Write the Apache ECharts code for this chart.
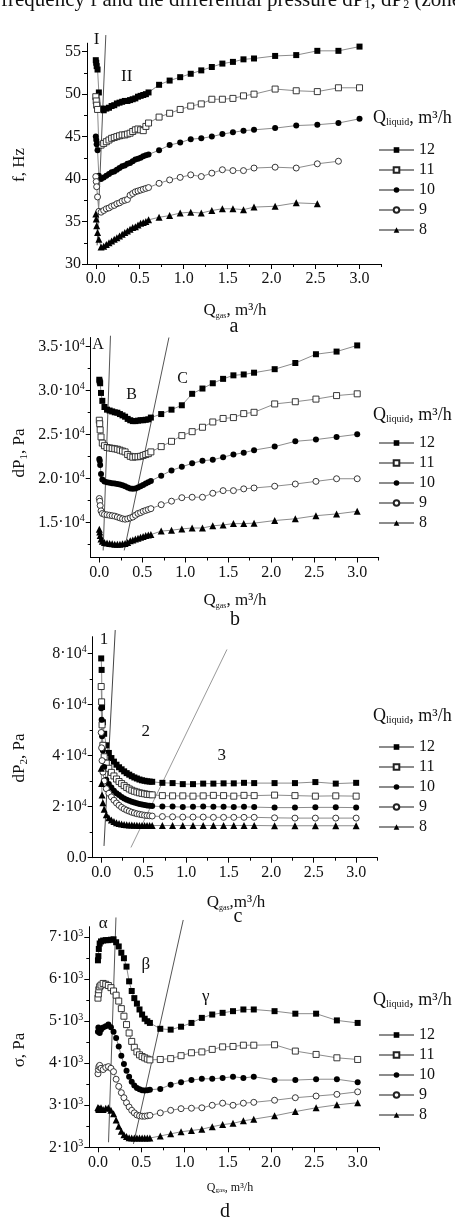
<!DOCTYPE html>
<html><head><meta charset="utf-8">
<script src="https://cdn.jsdelivr.net/npm/echarts@6/dist/echarts.min.js"></script>
<style>html,body{margin:0;padding:0;background:#fff}#c{width:455px;height:1224px}</style>
</head><body><div id="c"></div>
<script>
// ---------- data ----------
const qGas = [0, 0.005, 0.01, 0.02, 0.035, 0.06, 0.09, 0.12, 0.15, 0.18, 0.21, 0.24, 0.27, 0.30, 0.33, 0.36, 0.39, 0.42, 0.45, 0.48, 0.51, 0.54, 0.57, 0.60, 0.72, 0.84, 0.96, 1.08, 1.20, 1.32, 1.44, 1.56, 1.68, 1.80, 2.04, 2.28, 2.52, 2.76, 3.00];
const liquidNames = ['12', '11', '10', '9', '8'];
const xTicks = [0, 0.5, 1.0, 1.5, 2.0, 2.5, 3.0];
const xMinorTicks = [0.25, 0.75, 1.25, 1.75, 2.25, 2.75, 3.25];

// panel a: f, Hz
const f12 = [54.0, 53.7, 53.3, 52.9, 50.2, 48.3, 48.1, 48.3, 48.4, 48.6, 48.7, 48.9, 49.0, 49.1, 49.2, 49.2, 49.3, 49.4, 49.5, 49.7, 49.8, 49.9, 50.0, 50.2, 51.1, 51.6, 52.0, 52.4, 52.8, 53.2, 53.6, 53.8, 54.1, 54.2, 54.5, 54.6, 55.1, 55.1, 55.6];
const f11 = [49.7, 49.2, 48.7, 48.2, 44.0, 44.0, 44.2, 44.4, 44.6, 44.8, 44.9, 45.0, 45.1, 45.2, 45.2, 45.3, 45.4, 45.6, 45.8, 45.9, 45.8, 45.7, 46.2, 46.6, 47.3, 47.75, 48.2, 48.6, 48.85, 49.4, 49.4, 49.5, 49.8, 50.0, 50.6, 50.4, 50.3, 50.75, 50.75];
const f10 = [45.0, 44.6, 44.1, 43.4, 40.4, 40.0, 40.2, 40.4, 40.6, 40.8, 40.9, 41.1, 41.3, 41.5, 41.6, 41.8, 41.9, 42.1, 42.3, 42.4, 42.5, 42.7, 42.8, 42.9, 43.4, 44.0, 44.3, 44.7, 44.8, 45.0, 45.3, 45.5, 45.7, 45.8, 46.0, 46.3, 46.4, 46.6, 47.1];
const f9 = [40.3, 39.7, 39.1, 37.9, 36.2, 36.1, 36.3, 36.5, 36.6, 36.8, 36.9, 37.1, 37.2, 37.4, 37.5, 37.6, 38.1, 38.3, 38.5, 38.6, 38.7, 38.8, 38.9, 39.0, 39.5, 39.9, 40.2, 40.5, 40.3, 40.7, 41.1, 41.0, 41.0, 41.3, 41.4, 41.3, 41.8, 42.1, null];
const f8 = [35.9, 35.3, 34.5, 33.7, 32.9, 32.0, 32.1, 32.3, 32.5, 32.7, 32.9, 33.1, 33.3, 33.5, 33.7, 33.9, 34.1, 34.3, 34.4, 34.6, 34.8, 34.9, 35.0, 35.2, 35.5, 35.7, 36.0, 36.1, 36.0, 36.3, 36.5, 36.5, 36.4, 36.7, 36.8, 37.2, 37.1, null, null];

// panel b: dP1, x10^4 Pa
const dp1_12 = [3.12, 3.10, 3.08, 2.97, 2.88, 2.81, 2.78, 2.77, 2.76, 2.75, 2.745, 2.73, 2.715, 2.70, 2.675, 2.66, 2.65, 2.65, 2.655, 2.66, 2.66, 2.665, 2.67, 2.69, 2.73, 2.78, 2.83, 2.96, 3.02, 3.08, 3.13, 3.17, 3.18, 3.20, 3.24, 3.31, 3.41, 3.44, 3.51];
const dp1_11 = [2.66, 2.62, 2.55, 2.47, 2.40, 2.37, 2.35, 2.345, 2.34, 2.335, 2.33, 2.32, 2.31, 2.30, 2.27, 2.25, 2.24, 2.245, 2.245, 2.25, 2.26, 2.27, 2.28, 2.30, 2.36, 2.42, 2.485, 2.53, 2.58, 2.64, 2.68, 2.69, 2.735, 2.75, 2.845, 2.87, 2.90, 2.94, 2.96];
const dp1_10 = [2.22, 2.20, 2.15, 2.05, 1.985, 1.965, 1.955, 1.95, 1.945, 1.94, 1.935, 1.93, 1.92, 1.91, 1.895, 1.885, 1.88, 1.885, 1.895, 1.91, 1.925, 1.94, 1.955, 1.97, 2.03, 2.09, 2.13, 2.17, 2.20, 2.21, 2.24, 2.27, 2.29, 2.32, 2.36, 2.42, 2.44, 2.47, 2.50];
const dp1_9 = [1.77, 1.74, 1.69, 1.63, 1.60, 1.59, 1.585, 1.58, 1.575, 1.57, 1.56, 1.55, 1.54, 1.535, 1.54, 1.55, 1.56, 1.58, 1.60, 1.61, 1.625, 1.635, 1.645, 1.655, 1.70, 1.74, 1.78, 1.785, 1.785, 1.83, 1.86, 1.86, 1.88, 1.89, 1.91, 1.935, 1.965, 1.995, 1.995];
const dp1_8 = [1.42, 1.39, 1.35, 1.31, 1.285, 1.27, 1.265, 1.26, 1.255, 1.25, 1.25, 1.25, 1.255, 1.26, 1.27, 1.29, 1.30, 1.31, 1.32, 1.33, 1.34, 1.35, 1.355, 1.36, 1.40, 1.41, 1.425, 1.435, 1.435, 1.46, 1.47, 1.485, 1.485, 1.49, 1.52, 1.54, 1.575, 1.595, 1.625];

// panel c: dP2, x10^4 Pa
const dp2_12 = [7.8, 7.35, 5.9, 5.3, 4.85, 4.40, 4.10, 3.90, 3.76, 3.64, 3.54, 3.46, 3.38, 3.31, 3.25, 3.19, 3.14, 3.10, 3.06, 3.03, 3.01, 2.99, 2.98, 2.97, 2.93, 2.92, 2.88, 2.88, 2.90, 2.90, 2.91, 2.91, 2.93, 2.92, 2.92, 2.92, 2.96, 2.90, 2.93];
const dp2_11 = [6.7, 6.1, 5.2, 4.4, 3.95, 3.70, 3.50, 3.34, 3.20, 3.08, 2.98, 2.90, 2.82, 2.75, 2.69, 2.64, 2.60, 2.57, 2.54, 2.52, 2.50, 2.48, 2.47, 2.46, 2.43, 2.42, 2.42, 2.41, 2.42, 2.44, 2.43, 2.41, 2.44, 2.43, 2.45, 2.43, 2.41, 2.42, 2.41];
const dp2_10 = [5.85, 5.4, 4.75, 4.2, 3.55, 3.05, 2.88, 2.75, 2.62, 2.52, 2.45, 2.38, 2.32, 2.27, 2.23, 2.19, 2.16, 2.13, 2.10, 2.08, 2.06, 2.04, 2.03, 2.02, 2.0, 2.0, 1.98, 1.99, 2.0, 1.99, 1.99, 1.98, 1.99, 1.98, 1.96, 1.96, 1.97, 1.97, 1.96];
const dp2_9 = [4.9, 4.3, 3.8, 3.35, 3.0, 2.70, 2.52, 2.38, 2.25, 2.14, 2.05, 1.97, 1.91, 1.86, 1.82, 1.78, 1.75, 1.72, 1.70, 1.68, 1.66, 1.65, 1.64, 1.63, 1.61, 1.60, 1.59, 1.59, 1.59, 1.58, 1.58, 1.58, 1.58, 1.58, 1.56, 1.55, 1.55, 1.55, 1.55];
const dp2_8 = [3.5, 2.9, 2.45, 2.15, 1.90, 1.68, 1.56, 1.48, 1.42, 1.37, 1.34, 1.32, 1.30, 1.29, 1.28, 1.275, 1.27, 1.27, 1.265, 1.26, 1.26, 1.26, 1.26, 1.26, 1.26, 1.26, 1.26, 1.26, 1.26, 1.26, 1.26, 1.26, 1.26, 1.26, 1.25, 1.25, 1.25, 1.25, 1.25];

// panel d: sigma, x10^3 Pa
const sg12 = [6.45, 6.55, 6.72, 6.85, 6.9, 6.92, 6.93, 6.93, 6.94, 6.95, 6.88, 6.78, 6.63, 6.50, 6.30, 5.95, 5.72, 5.55, 5.42, 5.28, 5.16, 5.06, 5.0, 4.96, 4.82, 4.80, 4.87, 4.96, 5.08, 5.16, 5.20, 5.24, 5.28, 5.28, 5.24, 5.18, 5.18, 5.02, 4.96];
const sg11 = [5.55, 5.65, 5.75, 5.82, 5.86, 5.9, 5.88, 5.85, 5.80, 5.72, 5.62, 5.48, 5.30, 5.12, 4.92, 4.72, 4.52, 4.38, 4.27, 4.20, 4.16, 4.13, 4.10, 4.08, 4.09, 4.11, 4.18, 4.25, 4.27, 4.33, 4.39, 4.40, 4.43, 4.43, 4.44, 4.29, 4.21, 4.13, 4.09];
const sg10 = [4.75, 4.85, 4.78, 4.72, 4.80, 4.85, 4.88, 4.92, 4.86, 4.75, 4.60, 4.40, 4.18, 3.98, 3.82, 3.68, 3.56, 3.47, 3.41, 3.38, 3.36, 3.35, 3.36, 3.37, 3.39, 3.49, 3.55, 3.60, 3.63, 3.63, 3.65, 3.68, 3.65, 3.68, 3.60, 3.60, 3.62, 3.62, 3.55];
const sg9 = [3.75, 3.85, 3.92, 3.95, 3.88, 3.85, 3.90, 3.92, 3.88, 3.80, 3.62, 3.45, 3.30, 3.18, 3.06, 2.96, 2.88, 2.82, 2.77, 2.75, 2.74, 2.74, 2.75, 2.76, 2.82, 2.88, 2.92, 2.93, 2.94, 3.0, 3.05, 3.0, 3.05, 3.07, 3.12, 3.18, 3.22, 3.26, 3.32];
const sg8 = [2.95, 2.93, 2.90, 2.92, 2.94, 2.90, 2.93, 2.94, 2.88, 2.80, 2.65, 2.50, 2.38, 2.30, 2.26, 2.23, 2.22, 2.22, 2.22, 2.22, 2.22, 2.22, 2.22, 2.22, 2.27, 2.32, 2.37, 2.40, 2.43, 2.49, 2.54, 2.57, 2.63, 2.67, 2.75, 2.85, 2.94, 3.01, 3.06];

// zone boundary lines (data coordinates: [x, y] endpoints)
const boundA = [[[0.114, 56.96], [0.015, 32.2]]];
const boundB = [[[0.13, 3.62], [0.045, 1.18]], [[0.81, 3.60], [0.29, 1.18]]];
const boundC = [[[0.165, 8.91], [0.033, 0.46]], [[1.48, 8.15], [0.35, 0.40]]];
const boundD = [[[0.208, 7.47], [0.122, 2.12]], [[0.985, 7.41], [0.41, 2.08]]];

// y tick values
const yTicksA = [30, 35, 40, 45, 50, 55], yMinorA = [32.5, 37.5, 42.5, 47.5, 52.5];
const yTicksB = [1.5, 2.0, 2.5, 3.0, 3.5], yMinorB = [1.25, 1.75, 2.25, 2.75, 3.25];
const yTicksC = [0, 2, 4, 6, 8], yMinorC = [1, 3, 5, 7];
const yTicksD = [2, 3, 4, 5, 6, 7], yMinorD = [2.5, 3.5, 4.5, 5.5, 6.5];

// ---------- chart ----------
const FONT = 'Liberation Serif';
const panels = [
  { grid: {left: 87, top: 43.2, width: 294.5, height: 220.8}, y: [30, 56], yt: yTicksA, ym: yMinorA,
    fmt: v => '{m|' + v + '}', series: [f12, f11, f10, f9, f8], bounds: boundA, bColors: ['#555'] },
  { grid: {left: 90.7, top: 337.5, width: 288, height: 220}, y: [1.1, 3.6], yt: yTicksB, ym: yMinorB,
    fmt: v => '{m|' + v.toFixed(1) + '·10}{p|4}', series: [dp1_12, dp1_11, dp1_10, dp1_9, dp1_8], bounds: boundB, bColors: ['#555', '#555'] },
  { grid: {left: 92.7, top: 636.7, width: 284.7, height: 221}, y: [0, 8.65], yt: yTicksC, ym: yMinorC,
    fmt: v => v === 0 ? '{m|0.0}' : '{m|' + v + '·10}{p|4}', series: [dp2_12, dp2_11, dp2_10, dp2_9, dp2_8], bounds: boundC, bColors: ['#444', '#999'] },
  { grid: {left: 89.3, top: 926.7, width: 290, height: 220.6}, y: [2, 7.25], yt: yTicksD, ym: yMinorD,
    fmt: v => '{m|' + v + '·10}{p|3}', series: [sg12, sg11, sg10, sg9, sg8], bounds: boundD, bColors: ['#555', '#555'] }
];

const markers = [
  {symbol: 'rect', fill: '#000', size: 6},
  {symbol: 'rect', fill: '#fff', size: 6},
  {symbol: 'circle', fill: '#000', size: 6},
  {symbol: 'circle', fill: '#fff', size: 6},
  {symbol: 'triangle', fill: '#000', size: 7}
];

const labelRich = { m: {fontFamily: FONT, fontSize: 16, color: '#111'}, p: {fontFamily: FONT, fontSize: 10, color: '#111', verticalAlign: 'top', padding: [0, 0, 7, 0]} };

const grid = [], xAxis = [], yAxis = [], series = [], legend = [];
panels.forEach((p, g) => {
  grid.push(p.grid);
  const tickStyle = {color: '#000', width: 1};
  xAxis.push({type: 'value', gridIndex: g, position: 'bottom', min: -0.1, max: 3.25,
    axisLine: {show: true, onZero: false, lineStyle: tickStyle},
    axisTick: {show: true, length: 5, customValues: xTicks, lineStyle: tickStyle},
    axisLabel: {customValues: xTicks, formatter: v => v.toFixed(1), fontFamily: FONT, fontSize: 16, color: '#111', margin: 7},
    splitLine: {show: false}});
  xAxis.push({type: 'value', gridIndex: g, position: 'bottom', min: -0.1, max: 3.25,
    axisLine: {show: false, onZero: false}, axisTick: {show: true, length: 3, customValues: xMinorTicks, lineStyle: tickStyle},
    axisLabel: {show: false}, splitLine: {show: false}});
  yAxis.push({type: 'value', gridIndex: g, position: 'left', min: p.y[0], max: p.y[1],
    axisLine: {show: true, onZero: false, lineStyle: tickStyle},
    axisTick: {show: true, length: 5, customValues: p.yt, lineStyle: tickStyle},
    axisLabel: {customValues: p.yt, formatter: p.fmt, fontFamily: FONT, fontSize: 16, color: '#111', margin: 6, rich: labelRich},
    splitLine: {show: false}});
  yAxis.push({type: 'value', gridIndex: g, position: 'left', min: p.y[0], max: p.y[1],
    axisLine: {show: false, onZero: false}, axisTick: {show: true, length: 3, customValues: p.ym, lineStyle: tickStyle},
    axisLabel: {show: false}, splitLine: {show: false}});
  p.series.forEach((arr, k) => {
    const m = markers[k];
    series.push({type: 'line', name: liquidNames[k], xAxisIndex: 2 * g, yAxisIndex: 2 * g,
      data: qGas.map((x, i) => [x, arr[i]]).filter(d => d[1] !== null),
      symbol: m.symbol, symbolSize: m.size, showSymbol: true, animation: false,
      lineStyle: {color: '#8c8c8c', width: 1},
      itemStyle: {color: m.fill, borderColor: '#222', borderWidth: m.fill === '#fff' ? 0.9 : 0},
      emphasis: {disabled: true}, z: 3});
  });
  p.bounds.forEach((b, j) => {
    series.push({type: 'line', name: 'boundary', xAxisIndex: 2 * g, yAxisIndex: 2 * g, data: b,
      symbol: 'none', clip: false, silent: true, animation: false,
      lineStyle: {color: p.bColors[j], width: 1}, z: 2});
  });
});

const legendTops = [137, 430, 734, 1022];
legendTops.forEach(t => legend.push({
  orient: 'vertical', left: 373, top: t, itemGap: 4, itemWidth: 35, itemHeight: 7,
  data: liquidNames, selectedMode: false,
  textStyle: {fontFamily: FONT, fontSize: 16, color: '#111', lineHeight: 16}
}));

function txt(x, y, text, size, extra, subSize) {
  const ss = subSize || Math.round(size * 0.55);
  return Object.assign({type: 'text', x: x, y: y, silent: true,
    style: {text: text, fill: '#111', fontFamily: FONT, fontSize: size, align: 'center', verticalAlign: 'middle',
      rich: {
        s: {fontFamily: FONT, fontSize: ss, fill: '#111', verticalAlign: 'bottom', padding: [Math.round(size * 0.45), 0, 0, 0]},
        n: {fontFamily: FONT, fontSize: size, fill: '#111'}
      }}}, extra || {});
}

const graphic = [
  // panel a
  txt(96.7, 40, 'I', 17), txt(126.7, 77, 'II', 17),
  txt(20, 165, 'f, Hz', 17, {rotation: Math.PI / 2}),
  txt(235, 311, '{n|Q}{s|gas}{n|, m³/h}', 17, null, 8), txt(234, 327, 'a', 20),
  // panel b
  txt(98, 345, 'A', 16), txt(131.7, 395, 'B', 16), txt(182.7, 379, 'C', 16),
  txt(20, 453, '{n|dP}{s|1}{n|, Pa}', 17, {rotation: Math.PI / 2}, 11),
  txt(235, 601, '{n|Q}{s|gas}{n|, m³/h}', 17, null, 8), txt(235, 620, 'b', 20),
  // panel c
  txt(104, 640, '1', 17), txt(145.7, 731.7, '2', 17), txt(221.7, 756, '3', 17),
  txt(20, 758, '{n|dP}{s|2}{n|, Pa}', 17, {rotation: Math.PI / 2}, 11),
  txt(236, 903, '{n|Q}{s|gas}{n|,m³/h}', 17, null, 8), txt(238, 917, 'c', 20),
  // panel d
  txt(103.3, 924, 'α', 17), txt(145.7, 965, 'β', 17), txt(205.7, 996.7, 'γ', 17),
  txt(20, 1050, 'σ, Pa', 17, {rotation: Math.PI / 2}),
  txt(230, 1188, '{n|Q}{s|gas}{n|, m³/h}', 12, null, 7), txt(225, 1212, 'd', 20)
];
// cropped caption line at the very top
const topLine = txt(1, 11, '{n|frequency f and the differential pressure dP}{s|1}{n|, dP}{s|2}{n| (zones}', 21, null, 12);
topLine.style.align = 'left';
topLine.style.verticalAlign = 'bottom';
graphic.push(topLine);
// legend titles
[118, 415, 716.7, 1000].forEach(y => {
  const t = txt(373, y, '{n|Q}{s|liquid}{n|, m³/h}', 18, null, 10);
  t.style.align = 'left';
  graphic.push(t);
});

const chart = echarts.init(document.getElementById('c'), null, {renderer: 'canvas', width: 455, height: 1224});
chart.setOption({animation: false, backgroundColor: '#fff', grid, xAxis, yAxis, series, legend, graphic});
</script>
</body></html>
